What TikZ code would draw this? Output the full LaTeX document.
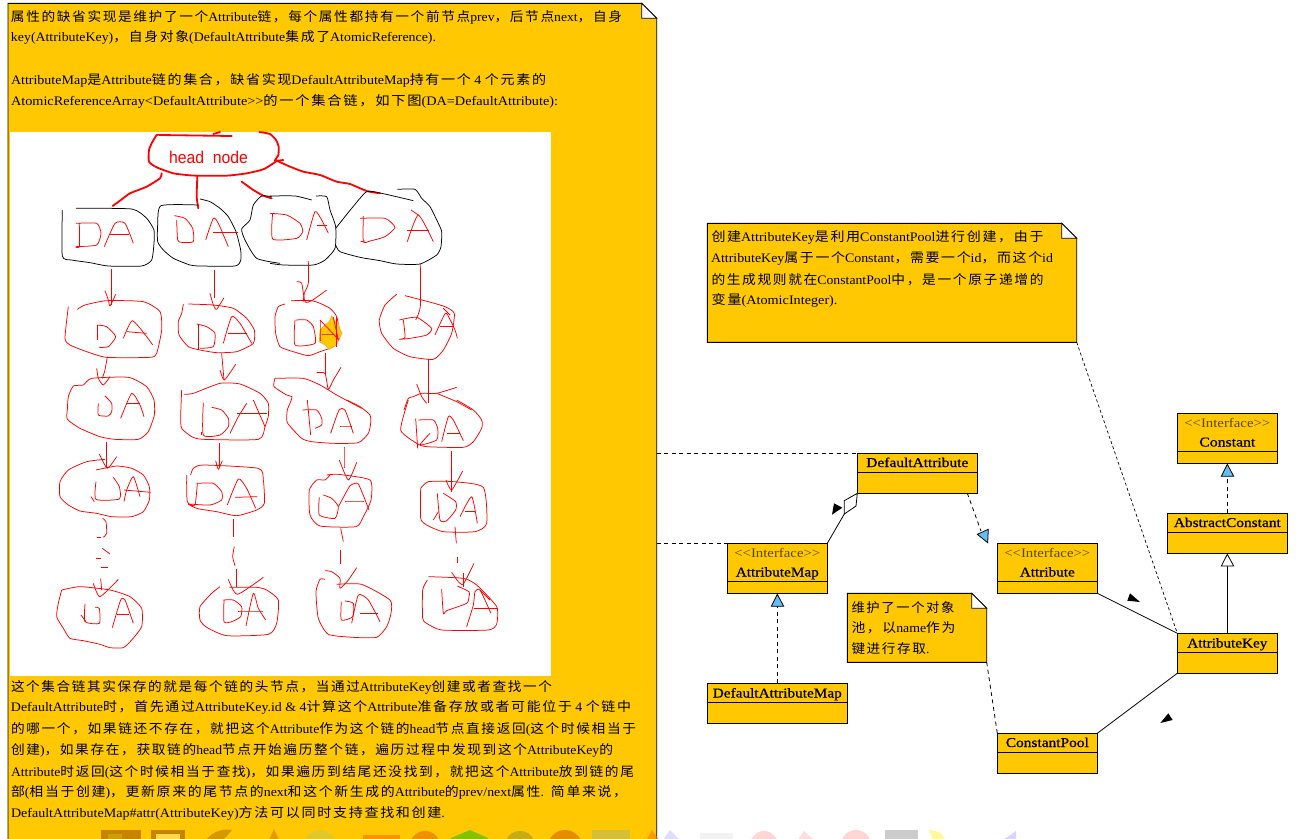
\documentclass[tikz,border=0pt]{standalone}
\usepackage{fontspec}
\usepackage{graphicx}
\setmainfont{Liberation Serif}
\newfontfamily\cjkf[LetterSpace=12]{Noto Sans CJK SC}
\newfontfamily\headf{Liberation Sans}
\newfontfamily\classf[FakeBold=0.7]{Liberation Serif}
\newcommand\C[1]{{\cjkf #1}}
\definecolor{noteY}{RGB}{255,200,0}
\definecolor{triB}{RGB}{102,190,240}
\definecolor{sketchR}{RGB}{255,0,0}
\definecolor{ifaceC}{RGB}{90,70,10}
\tikzset{
  umlbox/.style={draw=black,fill=noteY,line width=0.9pt,inner sep=0pt,outer sep=0pt},
  notefill/.style={draw=black,fill=noteY,line width=0.9pt},
  txt/.style={anchor=base west,inner sep=0pt,outer sep=0pt,font=\fontsize{13}{13}\selectfont,text=black},
  cname/.style={anchor=base,inner sep=0pt,outer sep=0pt,font=\classf\fontsize{13.5}{13.5}\selectfont,text=black},
  iname/.style={anchor=base,inner sep=0pt,outer sep=0pt,font=\fontsize{13}{13}\selectfont,text=ifaceC},
  conn/.style={draw=black,line width=0.8pt},
  dconn/.style={draw=black,line width=0.8pt,dash pattern=on 4pt off 3.5pt},
  sk/.style={draw=sketchR,line width=0.75pt,line join=round,smooth,tension=0.35},
  skthick/.style={draw=sketchR,line width=1.8pt,line join=round,line cap=round,smooth,tension=0.35},
  skblack/.style={draw=black,line width=0.75pt,line join=round,smooth,tension=0.35},
  zA/.style={x=0.33333pt,y=-0.33333pt,yshift=-130pt},
  zB/.style={x=0.33333pt,y=-0.33333pt,xshift=270pt,yshift=-130pt},
  zC/.style={x=0.33333pt,y=-0.33333pt,yshift=-400pt},
  zD/.style={x=0.33333pt,y=-0.33333pt,xshift=270pt,yshift=-400pt},
  ico/.style={draw=none,opacity=0.65},
}
% text line fitted to the width it has in the picture
\newcommand\TL[5]{\node[txt] (#1) at (#2,#3) {\resizebox{#4pt}{\height}{#5}};}
\newcommand\CN[5]{\node[cname] (#1) at (#2,#3) {\resizebox{#4pt}{\height}{#5}};}
\newcommand\IN[4]{\node[iname] (#1) at (#2,#3) {\resizebox{#4pt}{\height}{<{}<Interface>{}>}};}
% class box: name x1 y1 x2 y2 ydivider
\newcommand\Uml[6]{%
  \pgfmathsetmacro\ucx{(#2+#4)/2}\pgfmathsetmacro\ucy{(#3+#5)/2}%
  \pgfmathsetmacro\uw{#4-#2}\pgfmathsetmacro\uh{#5-#3}%
  \node[umlbox,minimum width=\uw pt,minimum height=\uh pt] (#1) at (\ucx,\ucy) {};
  \draw[conn] (#2,#6) -- (#4,#6);
}
% note with a folded corner: name x1 y1 x2 y2 fold
\newcommand\Note[6]{%
  \pgfmathsetmacro\ucx{(#2+#4)/2}\pgfmathsetmacro\ucy{(#3+#5)/2}%
  \pgfmathsetmacro\uw{#4-#2}\pgfmathsetmacro\uh{#5-#3}%
  \node[minimum width=\uw pt,minimum height=\uh pt,inner sep=0pt,outer sep=0pt] (#1) at (\ucx,\ucy) {};
  \pgfmathsetmacro\fx{#4-#6}\pgfmathsetmacro\fy{#3+#6}%
  \draw[notefill] (#2,#3) -- (\fx,#3) -- (#4,\fy) -- (#4,#5) -- (#2,#5) -- cycle;
  \draw[conn,fill=white] (\fx,#3) -- (\fx,\fy) -- (#4,\fy) -- cycle;
}
\begin{document}
\begin{tikzpicture}[x=1pt,y=-1pt]
\useasboundingbox (0,0) rectangle (1313,838);
\clip (0,0) rectangle (1313,838);
\fill[white] (0,0) rectangle (1313,838);

% faded icons along the bottom edge
\begin{scope}
\fill[ico,fill=white!40!gray] (885,830) rectangle (918,845);
\fill[ico,fill=red!25] (764,845) circle (14);
\fill[ico,fill=red!25] (856,845) circle (15);
\fill[ico,fill=blue!20] (663,840) -- (670,830) -- (680,840) -- cycle;
\fill[ico,fill=gray!15] (700,833) -- (733,833) -- (733,845) -- (700,845) -- cycle;
\fill[ico,fill=red!20] (794,845) -- (804,831) -- (812,838) -- (824,845) -- cycle;
\fill[ico,fill=yellow!60] (929,830) -- (940,832) -- (949,845) -- (935,845) -- cycle;
\fill[ico,fill=blue!25] (996,845) -- (1016,831) -- (1016,845) -- cycle;
\end{scope}

% large note
\node[minimum width=649pt,minimum height=860pt,inner sep=0pt,outer sep=0pt] (bigNote) at (332,433) {};
\draw[notefill] (8,860) -- (8,3.3) -- (641.7,3.3) -- (656.7,18.3) -- (656.7,860);
\draw[conn,fill=white] (641.7,3.3) -- (641.7,18.3) -- (656.7,18.3) -- cycle;

% icons over the note
\fill[ico,fill=black!30!orange!80!olive] (101,830) rectangle (141,845);
\fill[fill=noteY!80!black] (108,834) rectangle (122,845);
\fill[ico,fill=black!30!orange!80!olive] (151,830) rectangle (185,845);
\fill[fill=noteY!70!white] (156,834) rectangle (180,845);
\fill[ico,fill=orange!50!olive] (202,845) .. controls (210,832) and (222,828) .. (232,830) .. controls (226,838) and (220,842) .. (214,845) -- cycle;
\fill[ico,fill=orange!70!olive] (274,829) -- (279,840) -- (269,840) -- cycle;
\fill[ico,fill=olive!60!yellow!70!white] (320,847) circle (17);
\fill[ico,fill=orange!90!red] (363,835) rectangle (400,846);
\fill[ico,fill=orange!90!black] (425,846) circle (15);
\fill[ico,fill=green!50!olive] (451,838) -- (470,830) -- (488,838) -- (480,846) -- (458,846) -- cycle;
\fill[ico,fill=olive!80!white] (520,846) circle (15);
\fill[ico,fill=orange!85!black] (565,847) circle (17);
\fill[ico,fill=olive!55!white] (592,830) rectangle (630,846);
\fill[ico,fill=orange] (643,846) -- (652,830) -- (663,846) -- cycle;

% sketch picture
\node[fill=white,inner sep=0pt,outer sep=0pt,minimum width=541pt,minimum height=544pt] (sketchArea) at (280.5,404) {};

% -- upper left
\begin{scope}[zA]
\draw[skthick] plot coordinates {(480,15) (470,15) (455,40) (447,60) (447,95) (470,112) (520,130) (560,135) (590,137) (680,137) (740,130) (790,118) (820,100) (830,92)};
\draw[skthick] plot coordinates {(480,15) (695,18)};
\draw[skthick] plot coordinates {(640,12) (660,6)};
\draw[skthick] plot coordinates {(778,6) (810,12) (828,30) (836,50) (835,75) (825,92) (850,90)};
\draw[skthick] plot coordinates {(485,130) (480,145) (440,170) (390,190) (360,212) (338,228)};
\draw[skthick] plot coordinates {(592,140) (590,200) (595,235)};
\draw[skthick] plot coordinates {(725,155) (760,180) (790,197) (815,205)};
\draw[skblack] plot coordinates {(187,240) (187,378) (215,390) (270,398) (325,408) (425,408) (455,390) (462,340) (462,300) (440,265) (395,237) (228,235)};
\draw[skblack] plot coordinates {(600,207) (630,215) (660,235) (685,260) (708,305) (722,360) (722,392) (705,408) (600,408) (570,405) (520,385) (490,360) (473,335) (473,285) (483,227) (595,225)};
\draw[skblack] plot coordinates {(815,200) (785,198) (760,225) (750,270) (725,297) (735,330) (770,385) (840,400)};
% DA row 1
\draw[sk] plot coordinates {(228,280) (290,280) (303,310) (290,345) (228,350) (238,350) (238,280)};
\draw[sk] plot coordinates {(313,350) (345,280) (375,280) (400,340)};
\draw[sk] plot coordinates {(330,313) (385,313)};
\draw[sk] plot coordinates {(523,257) (555,265) (578,295) (580,335) (545,337) (533,330) (530,270)};
\draw[sk] plot coordinates {(617,330) (640,265) (655,280) (685,350)};
\draw[sk] plot coordinates {(640,307) (715,307)};
% row 2
\draw[sk] plot coordinates {(334,418) (334,525)};
\draw[sk] plot coordinates {(315,482) (325,510) (330,528) (347,493)};
\draw[sk] plot coordinates {(232,538) (255,525) (320,512) (430,515) (480,545) (485,600) (470,670) (450,682) (320,682) (260,665) (210,645) (195,625) (205,530)};
\draw[sk] plot coordinates {(292,585) (292,630)};
\draw[sk] plot coordinates {(292,585) (320,590) (347,620) (325,650) (297,652)};
\draw[sk] plot coordinates {(370,625) (397,572) (440,620) (458,645)};
\draw[sk] plot coordinates {(380,605) (440,610)};
\draw[sk] plot coordinates {(643,420) (643,505)};
\draw[sk] plot coordinates {(630,490) (640,525) (650,538) (672,503)};
\draw[sk] plot coordinates {(550,522) (545,550) (535,575) (537,615) (565,650) (600,660) (650,668) (710,665) (760,640) (763,600) (740,565) (700,535) (640,525) (565,522)};
\draw[sk] plot coordinates {(595,582) (595,660)};
\draw[sk] plot coordinates {(590,582) (620,590) (645,610) (640,650) (600,655)};
\draw[sk] plot coordinates {(670,640) (695,560) (720,580) (755,640)};
\draw[sk] plot coordinates {(685,610) (740,610)};
% row 3 tops
\draw[sk] plot coordinates {(322,680) (315,720) (307,745)};
\draw[sk] plot coordinates {(290,715) (295,745) (310,765) (330,740)};
\draw[sk] plot coordinates {(202,840) (205,800) (220,768) (250,765) (275,745) (385,742) (440,770) (462,810) (464,850)};
\draw[sk] plot coordinates {(295,820) (295,855) (325,858) (335,845) (335,820) (315,798)};
\draw[sk] plot coordinates {(362,865) (395,790) (420,825) (432,860)};
\draw[sk] plot coordinates {(665,670) (672,750)};
\draw[sk] plot coordinates {(660,720) (673,750) (707,703)};
\draw[sk] plot coordinates {(552,793) (580,790) (660,760) (720,762) (780,790) (805,820) (805,860)};
\end{scope}

% -- upper right
\begin{scope}[zB]
\draw[skthick] plot coordinates {(20,92) (60,110) (100,125) (150,135) (200,155) (240,162) (290,183) (330,190)};
\draw[skblack] plot coordinates {(0,400) (40,405) (130,405) (165,390) (195,355) (197,290) (180,240) (170,200) (138,198)};
\draw[skblack] plot coordinates {(125,210) (75,198) (0,198)};
\draw[skblack] plot coordinates {(197,295) (245,235) (290,185) (335,190) (430,212)};
\draw[skblack] plot coordinates {(382,178) (435,178) (455,205) (480,230) (505,280) (515,305) (513,350) (500,375) (450,402) (380,402) (330,392) (270,382) (210,365) (197,345)};
\draw[sk] plot coordinates {(0,250) (50,255) (90,280) (98,305) (80,325) (8,327) (8,250)};
\draw[sk] plot coordinates {(110,330) (135,245) (155,270) (175,310)};
\draw[sk] plot coordinates {(140,287) (170,287)};
\draw[sk] plot coordinates {(280,258) (280,335) (300,333) (345,320) (375,292) (345,265) (270,265)};
\draw[sk] plot coordinates {(272,335) (285,333)};
\draw[sk] plot coordinates {(412,335) (445,255) (490,335)};
\draw[sk] plot coordinates {(423,240) (445,255)};
\draw[sk] plot coordinates {(412,302) (478,302)};
% column 3 row 2
\draw[sk] plot coordinates {(115,393) (115,460) (103,490) (100,515)};
\draw[sk] plot coordinates {(80,455) (95,460) (105,515) (125,512) (170,480)};
\draw[sk] plot coordinates {(45,522) (25,530) (15,560) (17,610) (30,650) (70,665) (115,677) (150,665) (190,650) (210,620) (200,560) (180,535) (150,520) (125,512) (63,512)};
\draw[sk] plot coordinates {(78,570) (110,570) (130,590) (135,640) (75,645) (75,570)};
\fill[noteY,draw={rgb,255:red,225;green,175;blue,60},line width=0.7pt] (185,558) -- (195,575) -- (205,580) -- (210,598) -- (216,610) -- (205,630) -- (200,645) -- (190,650) -- (178,658) -- (165,645) -- (148,635) -- (150,600) -- (165,585) -- (178,575) -- cycle;
\draw[sk] plot coordinates {(150,570) (150,632)};
\draw[sk] plot coordinates {(150,570) (205,628)};
\draw[sk] plot coordinates {(190,562) (205,630)};
\draw[sk] plot coordinates {(155,612) (190,612)};
\draw[sk] plot coordinates {(200,560) (200,650)};
% column 4 row 2
\draw[sk] plot coordinates {(451,402) (451,530) (437,570)};
\draw[sk] plot coordinates {(380,493) (345,525) (328,570) (335,610) (370,655) (420,680) (490,688) (520,660) (545,610) (553,550) (525,530) (475,515) (405,497)};
\draw[sk] plot coordinates {(388,570) (440,562) (485,595) (470,615) (420,625) (388,628) (405,622) (400,570)};
\draw[sk] plot coordinates {(495,615) (520,560) (530,550) (555,600) (562,625)};
\draw[sk] plot coordinates {(510,590) (550,590)};
\draw[sk] plot coordinates {(520,535) (540,555)};
% row 3 tops
\draw[sk] plot coordinates {(166,670) (166,735)};
\draw[sk] plot coordinates {(140,728) (165,730) (175,778) (190,750) (213,712)};
\draw[sk] plot coordinates {(15,745) (12,770) (50,795) (66,800) (60,820)};
\draw[sk] plot coordinates {(15,745) (100,745) (150,765) (200,795) (275,835)};
\draw[sk] plot coordinates {(475,688) (475,820)};
\draw[sk] plot coordinates {(440,762) (455,800) (470,820)};
\draw[sk] plot coordinates {(402,840) (415,805) (430,800) (455,790) (500,790) (560,772)};
\draw[sk] plot coordinates {(500,790) (560,815) (605,840)};
\end{scope}

% -- lower left
\begin{scope}[zC]
\draw[sk] plot coordinates {(202,30) (202,58) (240,85) (300,110) (345,118) (415,118) (445,95) (462,50) (464,30)};
\draw[sk] plot coordinates {(380,10) (420,10)};
\draw[sk] plot coordinates {(545,-30) (542,50) (545,85) (575,110) (610,118) (775,118) (795,80) (805,50)};
\draw[sk] plot coordinates {(610,8) (610,105) (660,105) (685,80) (685,55) (665,30) (635,22)};
\draw[sk] plot coordinates {(605,95) (605,105)};
\draw[sk] plot coordinates {(690,100) (715,50) (740,10)};
\draw[sk] plot coordinates {(760,0) (795,80)};
\draw[sk] plot coordinates {(712,40) (800,40)};
% row 4
\draw[sk] plot coordinates {(320,125) (320,205)};
\draw[sk] plot coordinates {(298,162) (322,205) (350,170)};
\draw[sk] plot coordinates {(288,210) (350,198) (395,205) (430,225) (448,260) (448,300) (430,335) (395,350) (335,350) (290,340) (240,333) (205,315) (180,290) (180,245) (205,210) (260,185) (315,178)};
\draw[sk] plot coordinates {(288,245) (288,298) (358,297) (358,260) (340,232)};
\draw[sk] plot coordinates {(273,290) (283,305)};
\draw[sk] plot coordinates {(372,305) (380,270) (400,230) (420,290)};
\draw[sk] plot coordinates {(372,270) (452,277)};
\draw[sk] plot coordinates {(658,130) (658,205)};
\draw[sk] plot coordinates {(647,182) (655,208) (667,182)};
\draw[sk] plot coordinates {(572,225) (580,205) (610,195) (775,205) (790,240) (793,310) (770,330) (710,347) (650,335) (590,325) (562,305) (560,225)};
\draw[sk] plot coordinates {(590,250) (640,250) (665,275) (665,300) (630,315) (565,312) (585,315) (592,250)};
\draw[sk] plot coordinates {(682,315) (715,237) (740,265) (767,325)};
\draw[sk] plot coordinates {(705,292) (772,290)};
% dashes and last row
\draw[sk] plot coordinates {(308,355) (318,365) (320,400) (310,412)};
\draw[sk] plot coordinates {(290,412) (302,412)};
\draw[sk] plot coordinates {(307,445) (330,462)};
\draw[sk] plot coordinates {(288,475) (303,475)};
\draw[sk] plot coordinates {(303,502) (325,502)};
\draw[sk] plot coordinates {(302,535) (305,570)};
\draw[sk] plot coordinates {(280,550) (300,590) (355,538)};
\draw[sk] plot coordinates {(185,570) (240,560) (330,570) (390,590) (425,625) (425,680) (395,720) (370,743) (330,743) (300,733) (250,722) (210,715) (190,685) (170,650) (175,610) (185,570)};
\draw[sk] plot coordinates {(255,612) (255,665) (298,670) (298,625) (285,622)};
\draw[sk] plot coordinates {(243,645) (258,665)};
\draw[sk] plot coordinates {(337,683) (362,600) (375,600) (400,670)};
\draw[sk] plot coordinates {(352,643) (388,643)};
\draw[sk] plot coordinates {(700,358) (700,410)};
\draw[sk] plot coordinates {(703,440) (698,470) (705,497)};
\draw[sk] plot coordinates {(710,507) (710,560)};
\draw[sk] plot coordinates {(685,538) (712,583) (790,532)};
\draw[sk] plot coordinates {(660,560) (635,580) (600,620) (600,660) (620,682) (680,707) (805,703) (830,670) (835,600) (800,570) (770,562) (688,562)};
\draw[sk] plot coordinates {(670,600) (700,600) (725,620) (722,650) (695,665) (672,665) (672,600)};
\draw[sk] plot coordinates {(738,678) (760,580) (775,625) (797,660)};
\draw[sk] plot coordinates {(715,633) (790,633)};
\end{scope}

% -- lower right
\begin{scope}[zD]
\draw[sk] plot coordinates {(60,10) (52,30) (52,68) (95,115) (125,125) (190,130) (265,128) (295,100) (302,70) (300,45) (270,20) (230,0)};
\draw[sk] plot coordinates {(97,30) (140,30) (155,55) (155,75) (135,85)};
\draw[sk] plot coordinates {(112,0) (122,105)};
\draw[sk] plot coordinates {(182,100) (207,30) (225,30) (250,100)};
\draw[sk] plot coordinates {(210,78) (245,78)};
\draw[sk] plot coordinates {(415,0) (392,90) (440,130) (470,140) (580,142) (610,125) (635,85) (635,60) (610,30) (560,0)};
\draw[sk] plot coordinates {(437,55) (443,145)};
\draw[sk] plot coordinates {(445,60) (490,60) (503,85) (500,120) (450,135) (480,100)};
\draw[sk] plot coordinates {(515,125) (535,50) (550,60) (580,122)};
\draw[sk] plot coordinates {(530,100) (570,100)};
% row 4
\draw[sk] plot coordinates {(222,140) (222,205)};
\draw[sk] plot coordinates {(208,180) (235,240) (260,187)};
\draw[sk] plot coordinates {(170,225) (205,223) (300,240) (303,300) (280,350) (258,380) (150,378) (120,345) (118,270) (140,240) (165,240) (180,225)};
\draw[sk] plot coordinates {(148,292) (148,345) (195,355) (205,320) (185,295) (160,285)};
\draw[sk] plot coordinates {(205,320) (235,265) (243,255) (265,252) (297,330)};
\draw[sk] plot coordinates {(225,303) (280,303)};
\draw[sk] plot coordinates {(544,152) (544,275)};
\draw[sk] plot coordinates {(528,240) (545,270) (578,213)};
\draw[sk] plot coordinates {(452,265) (475,245) (550,245) (640,262) (650,370) (615,395) (520,395) (470,375) (452,355) (452,265)};
\draw[sk] plot coordinates {(502,280) (510,360) (530,362) (557,330) (557,305) (520,280)};
\draw[sk] plot coordinates {(490,360) (505,335)};
\draw[sk] plot coordinates {(570,350) (605,290) (622,370)};
\draw[sk] plot coordinates {(585,335) (615,335)};
\draw[sk] plot coordinates {(212,385) (220,425)};
\draw[sk] plot coordinates {(211,450) (211,490)};
\draw[sk] plot coordinates {(165,512) (185,515) (210,535) (210,565) (235,540) (260,503)};
\draw[sk] plot coordinates {(200,553) (275,553) (360,600) (363,640) (350,680) (320,712) (250,712) (175,703) (145,655) (138,575) (150,538) (165,538)};
\draw[sk] plot coordinates {(214,605) (214,660) (248,650) (250,610) (225,603)};
\draw[sk] plot coordinates {(245,670) (265,585) (295,600) (330,665)};
\draw[sk] plot coordinates {(270,640) (322,640)};
\draw[sk] plot coordinates {(555,380) (559,430)};
\draw[sk] plot coordinates {(562,470) (562,490)};
\draw[sk] plot coordinates {(545,517) (565,545) (580,552) (612,490)};
\draw[sk] plot coordinates {(580,520) (580,560)};
\draw[sk] plot coordinates {(475,530) (580,535) (620,555) (680,620) (680,672) (655,690) (515,690) (470,670) (458,655) (458,570) (472,540)};
\draw[sk] plot coordinates {(515,567) (520,640) (530,632) (590,610) (597,590) (597,575) (562,558)};
\draw[sk] plot coordinates {(590,680) (610,615) (615,575) (630,570) (663,640)};
\draw[sk] plot coordinates {(612,625) (685,625)};
\draw[sk] plot coordinates {(630,570) (660,600)};
\end{scope}

\node[inner sep=0pt,outer sep=0pt,anchor=base,text=sketchR,font=\headf\fontsize{17}{17}\selectfont] (headLabel) at (208.5,163) {\resizebox{79pt}{\height}{head\ \ node}};

% text of the large note
\TL{a1}{11}{21}{611}{\C{属性的缺省实现是维护了一个}Attribute\C{链，每个属性都持有一个前节点}prev\C{，后节点}next\C{，自身}}
\TL{a2}{11}{41.5}{425}{key(AttributeKey)\C{，自身对象}(DefaultAttribute\C{集成了}AtomicReference).}
\TL{a3}{11}{84}{535}{AttributeMap\C{是}Attribute\C{链的集合，缺省实现}DefaultAttributeMap\C{持有一个} 4 \C{个元素的}}
\TL{a4}{11}{105}{547}{AtomicReferenceArray<DefaultAttribute>{}>\C{的一个集合链，如下图}(DA=DefaultAttribute):}
\TL{b1}{11}{691}{541}{\C{这个集合链其实保存的就是每个链的头节点，当通过}AttributeKey\C{创建或者查找一个}}
\TL{b2}{11}{711.5}{620}{DefaultAttribute\C{时，首先通过}AttributeKey.id \& 4\C{计算这个}Attribute\C{准备存放或者可能位于} 4 \C{个链中}}
\TL{b3}{11}{733}{625}{\C{的哪一个，如果链还不存在，就把这个}Attribute\C{作为这个链的}head\C{节点直接返回}(\C{这个时候相当于}}
\TL{b4}{11}{754}{602}{\C{创建})\C{，如果存在，获取链的}head\C{节点开始遍历整个链，遍历过程中发现到这个}AttributeKey\C{的}}
\TL{b5}{11}{776}{623}{Attribute\C{时返回}(\C{这个时候相当于查找})\C{，如果遍历到结尾还没找到，就把这个}Attribute\C{放到链的尾}}
\TL{b6}{11}{796}{616}{\C{部}(\C{相当于创建})\C{，更新原来的尾节点的}next\C{和这个新生成的}Attribute\C{的}prev/next\C{属性}.\ \ \C{简单来说，}}
\TL{b7}{11}{817}{434}{DefaultAttributeMap\#attr(AttributeKey)\C{方法可以同时支持查找和创建}.}

% upper right note
\Note{noteTop}{707.3}{223.3}{1076.7}{342.3}{15}
\TL{c1}{711.5}{241}{332}{\C{创建}AttributeKey\C{是利用}ConstantPool\C{进行创建，由于}}
\TL{c2}{711}{262}{342}{AttributeKey\C{属于一个}Constant\C{，需要一个}id\C{，而这个}id}
\TL{c3}{711.5}{284}{332}{\C{的生成规则就在}ConstantPool\C{中，是一个原子递增的}}
\TL{c4}{711.5}{304}{126}{\C{变量}(AtomicInteger).}

% pool note
\Note{notePool}{847.3}{593.3}{986.7}{662.3}{15}
\TL{d1}{851.5}{612}{103}{\C{维护了一个对象}}
\TL{d2}{851.5}{632}{104}{\C{池，以}name\C{作为}}
\TL{d3}{851.5}{653}{78}{\C{键进行存取}.}

% classes
\Uml{da}{857.3}{453.3}{977.3}{493.3}{472.7}
\CN{daT}{917.3}{467}{102}{DefaultAttribute}
\Uml{am}{727.3}{543.3}{827.3}{593.3}{581.3}
\IN{amI}{777.3}{557}{86}
\CN{amT}{777.3}{576.5}{83}{AttributeMap}
\Uml{dam}{707.3}{683.3}{847.3}{723.3}{702.7}
\CN{damT}{777.3}{697.5}{129}{DefaultAttributeMap}
\Uml{attr}{997.3}{543.3}{1097.3}{593.3}{581.3}
\IN{attrI}{1047.3}{557}{86}
\CN{attrT}{1047.3}{576.5}{55}{Attribute}
\Uml{cp}{997.3}{733.3}{1097.3}{773.3}{752.7}
\CN{cpT}{1047.3}{747}{83}{ConstantPool}
\Uml{con}{1177.3}{413.3}{1277.3}{463.3}{451.3}
\IN{conI}{1227.3}{427}{86}
\CN{conT}{1227.3}{446.5}{56}{Constant}
\Uml{ac}{1167.3}{513.3}{1287.3}{553.3}{532.7}
\CN{acT}{1227.3}{527}{107}{AbstractConstant}
\Uml{key}{1177.3}{633.3}{1277.3}{673.3}{652.7}
\CN{keyT}{1227.3}{647.5}{80}{AttributeKey}

% connector end points
\coordinate (bigA) at (656.7,453.3);
\coordinate (bigB) at (656.7,543.3);
\coordinate (diaLow) at (844.3,514);
\coordinate (realAttr) at (981,531);
\coordinate (realMap) at (777.3,606.3);
\coordinate (realCon) at (1227.3,476.3);
\coordinate (genAc) at (1227.3,566);

% connectors
\draw[dconn] (bigA) -- (da.north west);
\draw[dconn] (bigB) -- (am.north west);
\draw[conn] (am.north east) -- (diaLow);
\draw[conn,fill=white] (da.south west) -- (844.3,500.7) -- (diaLow) -- (856,506) -- cycle;
\fill[black] (834,503.3) -- (842.3,507.7) -- (832,514.7) -- cycle;
\draw[dconn] ([xshift=-10pt]da.south east) -- (realAttr);
\draw[conn,fill=triB] (977.3,534.3) -- (988.3,529.3) -- (987.7,542.7) -- cycle;
\draw[dconn] (dam.north) -- (realMap);
\draw[conn,fill=triB] (am.south |- 0,594.3) -- (771.3,606.3) -- (783.7,606.3) -- cycle;
\draw[dconn] (ac.north) -- (realCon);
\draw[conn,fill=triB] (con.south |- 0,464.3) -- (1221.3,476.3) -- (1233.7,476.3) -- cycle;
\draw[conn] (key.north) -- (genAc);
\draw[conn,fill=white] (ac.south |- 0,554.3) -- (1221.3,566) -- (1233.7,566) -- cycle;
\draw[conn] (attr.south east) -- (key.north west);
\fill[black] (1130,593.3) -- (1140,602) -- (1127.3,600.7) -- cycle;
\draw[conn] (cp.north east) -- (key.south west);
\fill[black] (1168.3,713.3) -- (1172.7,720) -- (1160.3,723) -- cycle;
\draw[dconn,line width=0.7pt,dash pattern=on 3pt off 2.5pt] (noteTop.south east) -- (key.north west);
\draw[dconn] (notePool.south east) -- (cp.north west);
\end{tikzpicture}
\end{document}
